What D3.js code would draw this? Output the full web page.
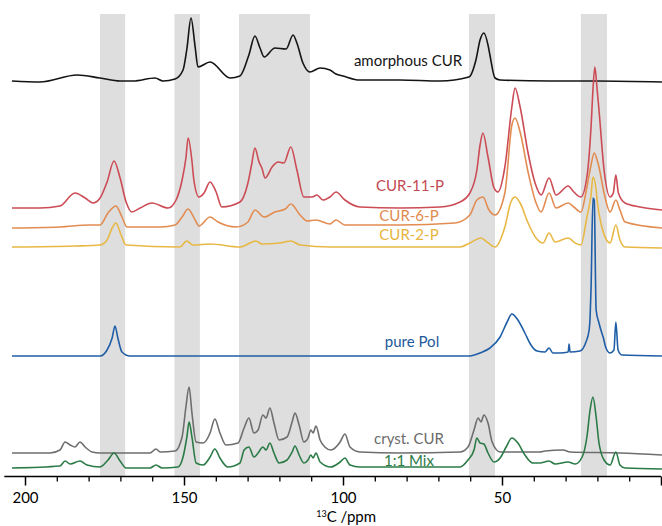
<!DOCTYPE html>
<html>
<head>
<meta charset="utf-8">
<script src="https://cdn.jsdelivr.net/npm/d3@7/dist/d3.min.js"></script>
<style>
  html, body { margin: 0; padding: 0; background: #fff; }
  svg { display: block; }
</style>
</head>
<body>
<svg id="chart" width="662" height="526"></svg>
<script>
// ---- data: [ppm, signal level] ----
const amorphousCUR = [[204.1,398],[195.3,397],[183.6,404],[176.4,401],[170.1,398],[166.0,398],[159.1,401],[156.6,398],[152.8,400],[150.3,409],[149.1,430],[147.8,461],[146.5,432],[145.6,412],[141.8,417],[135.5,401],[132.4,403],[129.6,424],[127.7,443],[126.1,431],[124.8,422],[121.4,431],[117.9,430],[115.7,444],[114.5,436],[112.6,416],[110.4,407],[107.2,411],[104.1,409],[102.2,405],[100.0,403],[94.7,399],[82.1,399],[69.5,398],[60.4,402],[58.2,419],[56.9,439],[55.7,446],[54.4,434],[53.8,424],[52.2,401],[50.6,399],[35.0,398],[20.0,398],[-0.3,397]];

const cur11P = [[204.1,271],[195.3,271],[189.0,273],[184.3,286],[181.1,281],[178.6,276],[176.4,281],[174.2,297],[172.0,318],[170.1,301],[168.2,277],[166.4,267],[163.8,271],[160.1,276],[155.0,271],[152.5,279],[150.6,299],[149.4,321],[148.7,341],[147.5,318],[146.9,299],[145.3,282],[143.7,286],[141.8,297],[139.9,287],[138.1,272],[132.4,277],[129.9,296],[128.7,315],[127.7,331],[126.4,317],[125.5,311],[124.5,301],[122.3,312],[120.4,317],[118.6,316],[116.4,332],[114.5,309],[112.3,282],[109.7,282],[108.2,284],[106.3,279],[104.1,282],[102.2,287],[99.4,279],[94.7,272],[82.1,271],[69.5,272],[63.2,277],[60.1,286],[57.9,309],[56.9,334],[56.0,346],[54.4,322],[52.5,291],[51.3,287],[49.1,312],[46.9,372],[45.9,391],[44.3,372],[41.8,326],[39.6,296],[37.7,284],[35.2,301],[33.0,284],[29.2,293],[27.4,287],[25.2,282],[23.3,302],[22.0,352],[21.4,389],[20.8,412],[20.1,390],[19.5,369],[17.9,309],[16.0,282],[15.0,286],[14.2,304],[13.4,286],[11.3,276],[6.6,272],[-0.3,269]];

const cur6P = [[204.1,251],[189.0,252],[179.6,254],[176.4,254],[173.9,266],[171.4,273],[169.5,262],[167.9,252],[157.5,252],[152.8,254],[150.6,262],[148.7,270],[146.5,259],[145.3,253],[141.8,262],[139.3,257],[133.6,252],[129.9,257],[127.7,269],[124.8,262],[121.4,267],[118.2,270],[116.4,275],[113.5,264],[111.3,258],[108.5,259],[104.1,255],[102.2,259],[99.4,254],[82.1,254],[64.8,256],[60.1,264],[57.9,279],[56.0,282],[54.1,269],[52.2,264],[49.1,286],[46.9,354],[45.9,361],[44.3,347],[41.8,307],[39.6,279],[37.7,267],[35.2,286],[33.0,271],[29.2,276],[27.4,272],[25.2,267],[23.3,292],[22.0,314],[21.0,326],[20.1,319],[19.5,312],[17.9,286],[16.0,267],[14.2,279],[12.9,269],[11.3,257],[-0.3,251]];

const cur2P = [[204.1,232],[184.3,233],[176.4,234],[174.2,239],[172.6,251],[171.4,256],[169.8,244],[168.2,234],[151.3,232],[149.1,238],[147.2,234],[141.8,235],[132.4,232],[127.4,238],[125.5,235],[119.8,236],[116.4,238],[113.5,234],[103.8,232],[63.2,232],[60.1,236],[56.6,241],[54.7,237],[52.2,232],[49.1,252],[47.2,277],[45.9,282],[44.3,276],[41.8,256],[39.3,241],[37.1,236],[35.2,246],[33.3,237],[29.2,241],[27.0,236],[25.2,234],[23.3,262],[22.0,284],[21.4,302],[20.4,289],[20.1,279],[18.6,252],[16.0,236],[14.2,254],[12.9,239],[11.3,232],[-0.3,231]];

const purePol = [[204.1,123],[176.4,123],[174.2,129],[172.6,141],[171.7,153],[170.8,141],[169.5,127],[167.0,123],[103.8,123],[60.1,123],[56.9,126],[53.8,131],[50.6,142],[48.4,157],[46.9,165],[45.0,159],[42.8,146],[40.9,134],[39.0,128],[36.5,127],[35.2,131],[34.0,126],[31.8,126],[29.2,127],[28.9,135],[28.6,127],[25.5,128],[23.6,137],[22.6,149],[22.3,162],[22.0,190],[21.4,281],[21.0,279],[20.4,169],[19.5,156],[18.9,149],[18.2,142],[17.3,131],[16.0,126],[14.8,129],[14.2,157],[13.5,129],[12.3,124],[-0.3,123]];

const crystCUR = [[204.1,26],[192.1,26],[189.0,29],[187.4,37],[185.8,34],[184.3,32],[182.7,37],[181.1,32],[178.9,27],[176.4,26],[160.7,26],[158.8,30],[157.5,27],[152.8,28],[150.6,42],[149.4,72],[148.4,92],[147.5,66],[146.2,37],[144.0,36],[141.8,46],[140.3,60],[138.7,46],[136.8,34],[133.0,36],[131.1,51],[129.6,61],[128.0,46],[126.7,49],[125.2,64],[124.2,61],[123.0,71],[121.7,56],[120.1,39],[117.6,42],[116.0,57],[115.1,66],[113.8,54],[112.3,37],[111.0,41],[110.1,49],[109.4,46],[108.5,53],[107.2,39],[105.7,32],[103.8,29],[100.9,37],[99.4,45],[97.8,32],[94.7,27],[82.1,26],[63.2,27],[60.7,32],[58.8,49],[57.5,61],[56.6,57],[55.7,64],[54.4,56],[53.1,37],[50.6,27],[38.1,27],[36.5,28],[30.8,29],[28.6,27],[12.9,26],[-0.3,24]];

const mix11 = [[204.1,11],[189.0,13],[187.4,18],[185.8,15],[182.7,18],[180.5,14],[176.4,12],[173.9,19],[172.0,26],[170.1,18],[168.2,11],[160.7,11],[158.8,14],[156.9,11],[151.9,12],[150.3,22],[149.1,42],[148.4,57],[147.5,42],[146.2,16],[144.0,14],[141.8,22],[140.3,30],[138.7,21],[136.2,12],[132.4,16],[131.1,29],[129.6,32],[128.0,22],[126.7,26],[125.2,32],[124.2,29],[123.0,36],[121.7,26],[120.1,16],[117.6,19],[116.0,27],[115.1,33],[113.8,24],[112.3,16],[111.0,19],[110.1,24],[109.4,21],[108.5,26],[107.2,17],[103.8,12],[100.9,17],[99.4,21],[97.8,14],[94.7,12],[63.2,12],[60.7,19],[58.8,29],[57.9,41],[56.9,36],[55.7,35],[54.4,26],[52.5,17],[50.6,21],[48.7,32],[46.9,41],[45.0,36],[42.8,24],[40.3,16],[38.1,16],[35.2,18],[33.3,15],[29.2,17],[27.0,15],[24.8,22],[23.3,42],[22.3,69],[21.4,82],[20.4,62],[19.5,36],[17.9,19],[16.0,14],[14.2,27],[12.9,14],[11.3,11],[-0.3,10]];

const seriesNames  = ["amorphous CUR","CUR-11-P","CUR-6-P","CUR-2-P","pure Pol","cryst. CUR","1:1 Mix"];
const seriesData   = [amorphousCUR, cur11P, cur6P, cur2P, purePol, crystCUR, mix11];
const seriesColors = ["#141414","#cc4b55","#e28c52","#e8b845","#1f5ea6","#6e6e6e","#2b7b47"];
const labelColors  = ["#141414","#c24a52","#e08a4e","#e6b440","#22599a","#6b6b6b","#2b7b47"];
const labelPos     = [[408,417],[410,292],[409,262],[409,243],[412,136],[409,39],[409,17]];

const bands = [[176.4,168.5],[153.0,145.0],[132.7,110.4],[60.4,52.2],[25.2,17.0]];
const majorTicks = [200,150,100,50,0];
const majorLabels = ["200","150","100","50",""];
const minorTicks = [190,180,170,160,140,130,120,110,90,80,70,60,40,30,20,10];

// ---- drawing ----
const svg = d3.select("#chart");
const x = d3.scaleLinear().domain([200, 0]).range([25, 661]);
const y = d3.scaleLinear().domain([0, 465]).range([479, 14]);
const axisY = 476.5;
const font = "Lato, 'Open Sans', sans-serif";

// shaded bands
svg.append("g").selectAll("rect").data(bands).join("rect")
  .attr("x", d => x(d[0]))
  .attr("width", d => x(d[1]) - x(d[0]))
  .attr("y", y(465))
  .attr("height", axisY - y(465))
  .attr("fill", "#dedede");

// spectra
const line = d3.line()
  .x(d => x(d[0]))
  .y(d => y(d[1]))
  .curve(d3.curveMonotoneX);

svg.append("g").selectAll("path").data(seriesData).join("path")
  .attr("d", line)
  .attr("fill", "none")
  .attr("stroke", (d, i) => seriesColors[i])
  .attr("stroke-width", 1.6)
  .attr("stroke-linejoin", "round");

// labels
svg.append("g").selectAll("text").data(seriesNames).join("text")
  .attr("x", (d, i) => labelPos[i][0])
  .attr("y", (d, i) => y(labelPos[i][1]))
  .attr("text-anchor", "middle")
  .attr("dominant-baseline", "middle")
  .attr("font-family", font)
  .attr("font-size", 15)
  .attr("fill", (d, i) => labelColors[i])
  .text(d => d);

// x axis
const axisG = svg.append("g").attr("transform", `translate(0,${axisY})`);
axisG.append("line")
  .attr("x1", x(206.5)).attr("x2", x(0))
  .attr("stroke", "#000").attr("stroke-width", 1.5);
const majorAxis = d3.axisBottom(x).tickValues(majorTicks).tickSize(9)
  .tickFormat((d, i) => majorLabels[i]);
const mg = axisG.append("g").call(majorAxis);
mg.select(".domain").remove();
mg.selectAll("line").attr("stroke", "#000").attr("stroke-width", 1.5);
mg.selectAll("text").attr("font-family", font).attr("font-size", 15).attr("fill", "#000")
  .attr("y", 26).attr("dy", null);
const minorAxis = d3.axisBottom(x).tickValues(minorTicks).tickSize(5).tickFormat("");
const ng = axisG.append("g").call(minorAxis);
ng.select(".domain").remove();
ng.selectAll("line").attr("stroke", "#000").attr("stroke-width", 1.3);

const title = svg.append("text")
  .attr("x", x(99)).attr("y", 522)
  .attr("text-anchor", "middle")
  .attr("font-family", font).attr("font-size", 15).attr("fill", "#000");
title.append("tspan").attr("font-size", 9).attr("dy", "-5").text("13");
title.append("tspan").attr("dy", "5").text("C /ppm");
</script>
</body>
</html>
